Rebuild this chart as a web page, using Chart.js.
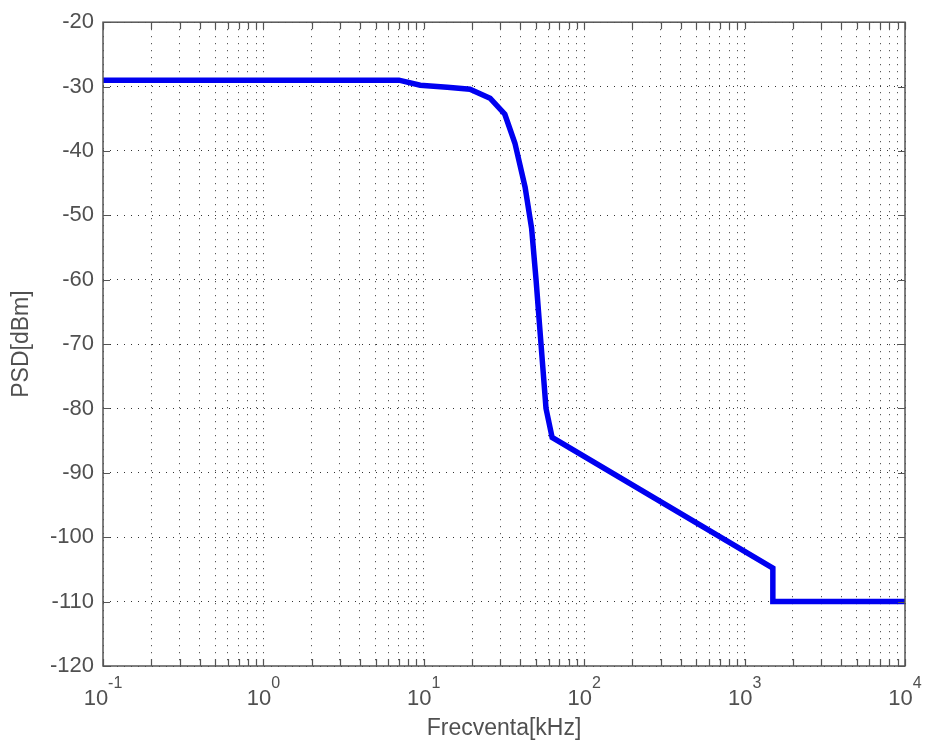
<!DOCTYPE html>
<html>
<head>
<meta charset="utf-8">
<script src="https://cdn.jsdelivr.net/npm/chart.js@4/dist/chart.umd.min.js"></script>
<style>
  body { margin: 0; background: #fff; }
</style>
</head>
<body>
<canvas id="psd_chart" width="925" height="742"></canvas>
<script>
// values (frequency in kHz, PSD in dBm)
const freqKHz = [0.1, 7, 9.5, 14, 19.4, 25.9, 32, 37, 42.8, 47, 50.1, 53.8, 57.8, 63.1, 1500, 1500, 10000];
const psdDbm  = [-29, -29, -29.8, -30.1, -30.4, -31.8, -34.3, -38.8, -45.6, -52, -60, -70, -80, -84.5, -104.8, -110, -110];

const xDecades = [-1, 0, 1, 2, 3, 4];
const yMin = -120, yMax = -20, yStep = 10;

const textColor = '#505050';
const fontFamily = '"Liberation Sans", Arial, sans-serif';

// box around plot, inward tick marks and 10^n labels, matlab style
const boxTicks = {
  id: 'boxTicks',
  afterDatasetsDraw(chart) {
    const { ctx, chartArea: a, scales } = chart;
    ctx.save();
    ctx.strokeStyle = '#555';
    ctx.lineWidth = 1.2;
    ctx.beginPath();
    scales.x.ticks.forEach(t => {
      const px = Math.round(scales.x.getPixelForValue(t.value)) + 0.5;
      ctx.moveTo(px, a.bottom); ctx.lineTo(px, a.bottom - 7);
      ctx.moveTo(px, a.top); ctx.lineTo(px, a.top + 7);
    });
    scales.y.ticks.forEach(t => {
      const py = Math.round(scales.y.getPixelForValue(t.value)) + 0.5;
      ctx.moveTo(a.left, py); ctx.lineTo(a.left + 7, py);
      ctx.moveTo(a.right, py); ctx.lineTo(a.right - 7, py);
    });
    ctx.stroke();
    ctx.lineWidth = 1.5;
    ctx.strokeRect(a.left, a.top, a.right - a.left, a.bottom - a.top);

    // decade labels with raised exponent
    ctx.fillStyle = textColor;
    ctx.textBaseline = 'alphabetic';
    ctx.textAlign = 'left';
    xDecades.forEach(d => {
      const px = scales.x.getPixelForValue(Math.pow(10, d));
      const exp = String(d);
      ctx.font = '22px ' + fontFamily;
      const wBase = ctx.measureText('10').width;
      ctx.font = '16px ' + fontFamily;
      const wExp = ctx.measureText(exp).width;
      const x0 = px - (wBase + wExp) / 2;
      ctx.font = '22px ' + fontFamily;
      ctx.fillText('10', x0, a.bottom + 39);
      ctx.font = '16px ' + fontFamily;
      ctx.fillText(exp, x0 + wBase, a.bottom + 22);
    });
    ctx.restore();
  }
};

const ctx = document.getElementById('psd_chart').getContext('2d');

new Chart(ctx, {
  type: 'line',
  data: {
    datasets: [{
      label: 'PSD',
      data: freqKHz.map((f, i) => ({ x: f, y: psdDbm[i] })),
      borderColor: '#0000f0',
      borderWidth: 5.5,
      pointRadius: 0,
      tension: 0,
      fill: false
    }]
  },
  options: {
    responsive: false,
    animation: false,
    layout: { padding: { top: 22, right: 20, left: 0, bottom: 0 } },
    plugins: {
      legend: { display: false },
      tooltip: { enabled: false }
    },
    scales: {
      x: {
        type: 'logarithmic',
        min: 0.1,
        max: 10000,
        afterBuildTicks(scale) {
          const ticks = [];
          xDecades.forEach(d => {
            for (let m = 1; m <= 9; m++) {
              if (d === xDecades[xDecades.length - 1] && m > 1) break;
              ticks.push({ value: +(m * Math.pow(10, d)).toPrecision(6) });
            }
          });
          scale.ticks = ticks;
        },
        afterFit(scale) { scale.height = 76; },
        grid: { color: '#333', lineWidth: 1, drawTicks: false },
        border: { display: false, dash: [1, 6] },
        ticks: { display: false },
        title: {
          display: true,
          text: 'Frecventa[kHz]',
          color: textColor,
          font: { family: fontFamily, size: 23 },
          padding: { top: 0, bottom: 0 }
        }
      },
      y: {
        min: yMin,
        max: yMax,
        afterFit(scale) { scale.width = 103; },
        grid: { color: '#333', lineWidth: 1, drawTicks: false },
        border: { display: false, dash: [1, 6] },
        ticks: {
          stepSize: yStep,
          padding: 9,
          color: textColor,
          font: { family: fontFamily, size: 22 }
        },
        title: {
          display: true,
          text: 'PSD[dBm]',
          color: textColor,
          font: { family: fontFamily, size: 23 },
          padding: { top: 8, bottom: 0 }
        }
      }
    }
  },
  plugins: [boxTicks]
});
</script>
</body>
</html>
